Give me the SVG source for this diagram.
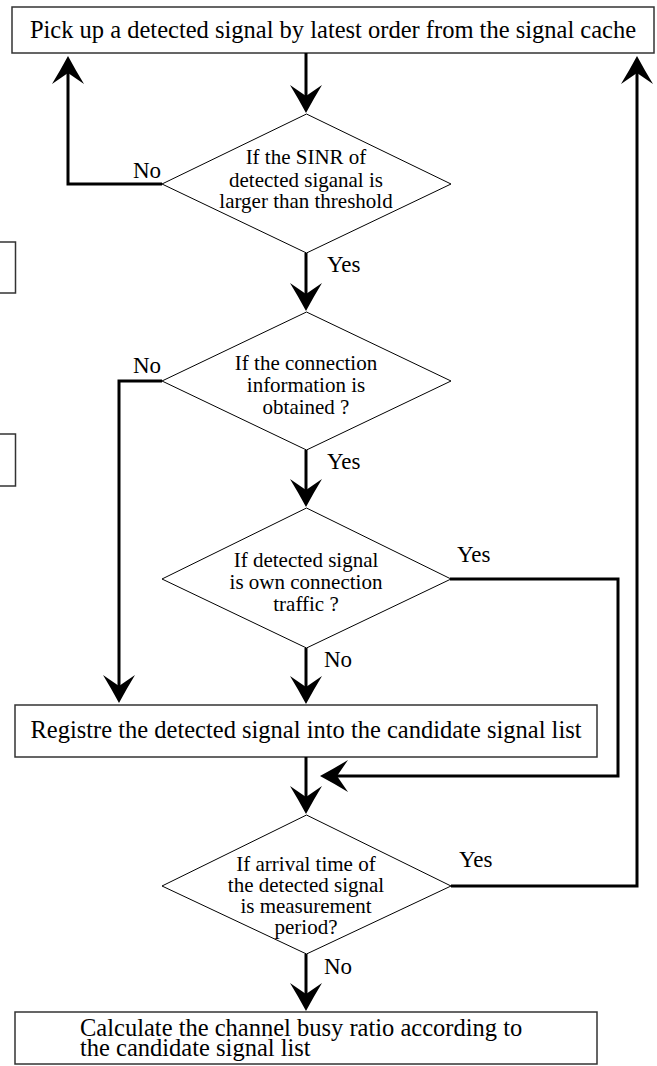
<svg xmlns="http://www.w3.org/2000/svg" width="657" height="1066" viewBox="0 0 657 1066">
  <defs>
    <marker id="arrow" markerUnits="userSpaceOnUse" viewBox="0 0 28 32" markerWidth="28" markerHeight="32" refX="11" refY="16" orient="auto">
      <path d="M0,0 Q14,8.5 28,16 Q14,23.5 0,32 L11,16 Z" fill="#000"/>
    </marker>
    <style>
      text { font-family: "Liberation Serif", "Times New Roman", Times, serif; fill: #000; }
      .box { fill: #fff; stroke: #333; stroke-width: 1.5; }
      .dec { fill: #fff; stroke: #000; stroke-width: 1; }
      .lbl { font-size: 24.5px; }
      .dt  { font-size: 21px; text-anchor: middle; }
      .yn  { font-size: 23px; }
      .flow { fill: none; stroke: #000; stroke-width: 3; marker-end: url(#arrow); }
    </style>
  </defs>
  <rect width="657" height="1066" fill="#fff"/>

  <!-- partial boxes cut off at the left margin -->
  <g id="edge-boxes">
    <rect class="box" x="-20" y="242" width="35.5" height="51"/>
    <rect class="box" x="-20" y="434" width="35.5" height="52"/>
  </g>

  <g id="pick-signal">
    <rect class="box" x="12" y="7" width="642" height="46"/>
    <text class="lbl" x="333" y="38" text-anchor="middle">Pick up a detected signal by latest order from the signal cache</text>
  </g>

  <g id="check-sinr">
    <polygon class="dec" points="306.5,114 451,184 306.5,253 162,184"/>
    <text class="dt" x="306" y="164">If the SINR of</text>
    <text class="dt" x="306" y="187">detected siganal is</text>
    <text class="dt" x="306" y="208">larger than threshold</text>
  </g>

  <g id="check-connection">
    <polygon class="dec" points="306.5,312 451,381 306.5,450 162,381"/>
    <text class="dt" x="306" y="370">If the connection</text>
    <text class="dt" x="306" y="392">information is</text>
    <text class="dt" x="306" y="414">obtained ?</text>
  </g>

  <g id="check-own-traffic">
    <polygon class="dec" points="306.5,508 451,579 306.5,648 162,579"/>
    <text class="dt" x="306" y="567">If detected signal</text>
    <text class="dt" x="306" y="589">is own connection</text>
    <text class="dt" x="306" y="611">traffic ?</text>
  </g>

  <g id="register-signal">
    <rect class="box" x="15" y="705" width="582" height="52"/>
    <text class="lbl" x="306" y="738" text-anchor="middle">Registre the detected signal into the candidate signal list</text>
  </g>

  <g id="check-arrival">
    <polygon class="dec" points="306.5,815 451,886 306.5,954 162,886"/>
    <text class="dt" x="306" y="871">If arrival time of</text>
    <text class="dt" x="306" y="892">the detected signal</text>
    <text class="dt" x="306" y="913">is measurement</text>
    <text class="dt" x="306" y="934">period?</text>
  </g>

  <g id="busy-ratio">
    <rect class="box" x="15" y="1012" width="582" height="52"/>
    <text class="lbl" x="80" y="1036">Calculate the channel busy ratio according to</text>
    <text class="lbl" x="80" y="1056">the candidate signal list</text>
  </g>

  <g id="connectors">
    <path class="flow" d="M306,53 V96"/>
    <path class="flow" d="M162,184 H68 V73"/>
    <path class="flow" d="M306,253 V294"/>
    <path class="flow" d="M162,381 H119 V686"/>
    <path class="flow" d="M306,450 V490"/>
    <path class="flow" d="M450,579 H618 V776 H337"/>
    <path class="flow" d="M306,648 V687"/>
    <path class="flow" d="M306,757 V797"/>
    <path class="flow" d="M451,886 H637 V73"/>
    <path class="flow" d="M306,954 V994"/>
  </g>

  <g id="branch-labels">
    <text class="yn" x="133" y="178">No</text>
    <text class="yn" x="327" y="272">Yes</text>
    <text class="yn" x="133" y="373">No</text>
    <text class="yn" x="327" y="469">Yes</text>
    <text class="yn" x="457" y="562">Yes</text>
    <text class="yn" x="324" y="667">No</text>
    <text class="yn" x="459" y="867">Yes</text>
    <text class="yn" x="324" y="974">No</text>
  </g>
</svg>
